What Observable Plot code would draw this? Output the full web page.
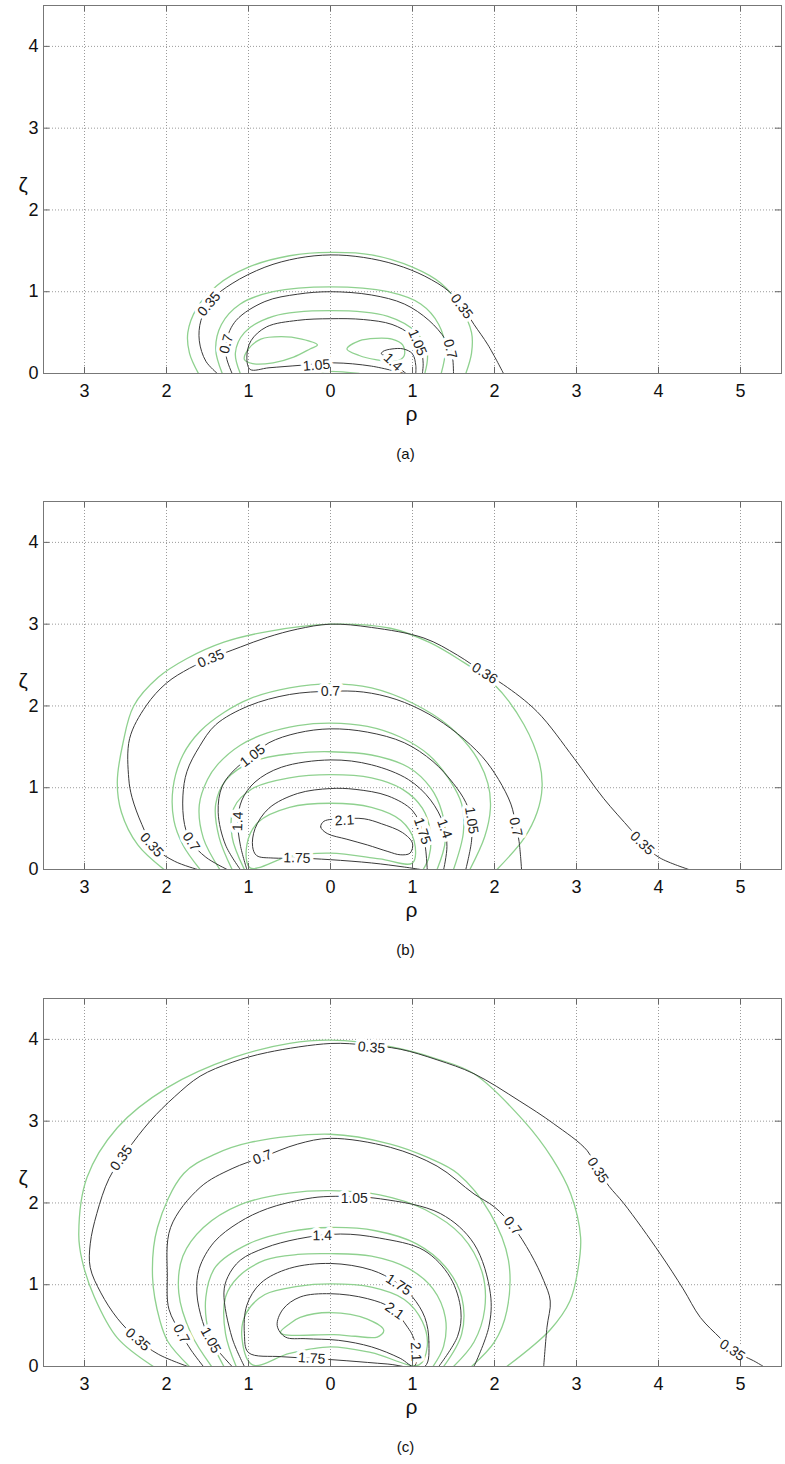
<!DOCTYPE html>
<html><head><meta charset="utf-8">
<script src="https://cdn.jsdelivr.net/npm/d3@7"></script>
<script src="https://cdn.jsdelivr.net/npm/@observablehq/plot@0.6"></script>
<style>body{margin:0;background:#fff} svg{display:block}</style>
</head><body><div id="chart"></div>
<script>
// axis ticks
const rhoTicks = [-3,-2,-1,0,1,2,3,4,5];
const zetaTicks = [0,1,2,3,4];
const panelNames = ["(a)","(b)","(c)"];

// ---------- panel (a) ----------
const greenA = [
 {closed:false, pts:[[-1.61,0],[-1.72,0.25],[-1.74,0.5],[-1.63,0.8],[-1.38,1.08],[-1.0,1.3],[-0.5,1.44],[0,1.48],[0.5,1.45],[1.0,1.3],[1.35,1.1],[1.58,0.82],[1.72,0.5],[1.72,0.25],[1.65,0]]},
 {closed:false, pts:[[-1.32,0],[-1.4,0.3],[-1.33,0.6],[-1.1,0.85],[-0.7,1.0],[0,1.06],[0.7,1.0],[1.1,0.85],[1.32,0.6],[1.4,0.3],[1.35,0]]},
 {closed:false, pts:[[-1.1,0],[-1.16,0.25],[-1.05,0.5],[-0.7,0.7],[0,0.77],[0.7,0.7],[1.05,0.5],[1.18,0.25],[1.15,0]]},
 {closed:true, pts:[[-0.16,0.35],[-0.35,0.42],[-0.6,0.45],[-0.85,0.42],[-1.0,0.3],[-1.05,0.17],[-0.95,0.12],[-0.7,0.13],[-0.45,0.2],[-0.25,0.3]]},
 {closed:true, pts:[[0.2,0.3],[0.35,0.4],[0.55,0.43],[0.75,0.42],[0.88,0.35],[0.9,0.22],[0.8,0.15],[0.55,0.17],[0.35,0.22]]},
 {closed:false, pts:[[-0.35,0],[0,0.025],[0.35,0]]}
];
const blackA = [
 {level:"0.35", closed:false, pts:[[-1.38,0],[-1.52,0.15],[-1.6,0.4],[-1.58,0.65],[-1.45,0.9],[-1.2,1.1],[-0.8,1.3],[-0.4,1.41],[0,1.45],[0.4,1.42],[0.8,1.33],[1.15,1.19],[1.45,1.0],[1.62,0.8],[1.75,0.6],[1.92,0.35],[2.11,0]]},
 {level:"0.7", closed:false, pts:[[-1.2,0],[-1.27,0.2],[-1.27,0.4],[-1.15,0.65],[-0.8,0.88],[-0.4,0.97],[0,1.0],[0.5,0.96],[0.9,0.85],[1.2,0.65],[1.4,0.42],[1.48,0.25],[1.5,0]]},
 {level:"1.05", closed:false, pts:[[0.9,0.0],[0.5,0.09],[0.04,0.13],[-0.37,0.1],[-0.75,0.07],[-0.98,0.05],[-1.02,0.2],[-0.97,0.4],[-0.78,0.57],[-0.4,0.65],[0,0.67],[0.4,0.66],[0.75,0.6],[0.98,0.47],[1.1,0.3],[1.13,0.12],[1.12,0]]},
 {level:"1.4", closed:false, pts:[[1.04,0],[1.04,0.1],[1.0,0.24],[0.89,0.3],[0.75,0.3],[0.64,0.27],[0.62,0.24],[0.7,0.2],[0.78,0.12],[0.86,0.05],[0.92,0]]}
];
const labelsA = [
 {t:"0.35", lvl:"0.35", at:[-1.48,0.85]}, {t:"0.35", lvl:"0.35", at:[1.6,0.82]},
 {t:"0.7", lvl:"0.7", at:[-1.27,0.36]}, {t:"0.7", lvl:"0.7", at:[1.46,0.3]},
 {t:"1.05", lvl:"1.05", at:[-0.17,0.1]}, {t:"1.05", lvl:"1.05", at:[1.06,0.38]},
 {t:"1.4", lvl:"1.4", at:[0.76,0.14]}
];

// ---------- panel (b) ----------
const greenB = [
 {closed:false, pts:[[-2.03,0],[-2.35,0.3],[-2.55,0.7],[-2.6,1.07],[-2.53,1.55],[-2.4,2.0],[-2.1,2.35],[-1.75,2.58],[-1.3,2.78],[-0.77,2.91],[0,3.0],[0.73,2.95],[1.2,2.78],[1.55,2.58],[2.0,2.26],[2.36,1.77],[2.55,1.3],[2.58,1.0],[2.52,0.7],[2.36,0.38],[2.03,0]]},
 {closed:false, pts:[[-1.59,0],[-1.8,0.3],[-1.91,0.6],[-1.92,1.0],[-1.8,1.4],[-1.59,1.69],[-1.3,1.92],[-0.98,2.09],[-0.5,2.22],[0,2.27],[0.5,2.22],[1.01,2.03],[1.45,1.75],[1.75,1.42],[1.92,1.05],[1.95,0.75],[1.88,0.4],[1.7,0]]},
 {closed:false, pts:[[-1.35,0],[-1.55,0.38],[-1.6,0.79],[-1.5,1.1],[-1.38,1.28],[-1.1,1.52],[-0.77,1.67],[-0.4,1.76],[0,1.79],[0.45,1.75],[0.85,1.62],[1.2,1.4],[1.45,1.1],[1.6,0.8],[1.62,0.45],[1.5,0]]},
 {closed:false, pts:[[-1.2,0],[-1.36,0.4],[-1.4,0.8],[-1.27,1.1],[-0.95,1.32],[-0.45,1.42],[0,1.44],[0.5,1.4],[0.95,1.25],[1.22,1.0],[1.36,0.7],[1.4,0.35],[1.3,0]]},
 {closed:false, pts:[[-1.05,0],[-1.2,0.4],[-1.18,0.75],[-0.95,0.99],[-0.5,1.12],[0,1.16],[0.5,1.12],[0.88,0.98],[1.12,0.75],[1.22,0.45],[1.2,0.15],[1.13,0]]},
 {closed:true, pts:[[-0.98,0.02],[-1.02,0.3],[-0.88,0.58],[-0.5,0.76],[0,0.81],[0.5,0.76],[0.86,0.6],[1.02,0.35],[1.0,0.08],[0.6,0.13],[0,0.2],[-0.5,0.16]]}
];
const blackB = [
 {level:"0.35", closed:false, pts:[[-1.62,0],[-1.9,0.1],[-2.16,0.28],[-2.3,0.55],[-2.42,0.88],[-2.46,1.11],[-2.45,1.6],[-2.25,2.0],[-2.0,2.28],[-1.72,2.46],[-1.46,2.58],[-1.1,2.72],[-0.77,2.84],[-0.4,2.94],[0,3.0],[0.5,2.96],[1.14,2.83],[1.55,2.62],[1.88,2.4],[2.11,2.26],[2.52,1.93],[2.97,1.36],[3.33,0.87],[3.66,0.49],[3.82,0.3],[4.02,0.14],[4.37,0]]},
 {level:"0.7", closed:false, pts:[[-1.26,0],[-1.52,0.15],[-1.7,0.34],[-1.78,0.55],[-1.8,0.9],[-1.75,1.2],[-1.6,1.5],[-1.4,1.77],[-1.0,2.0],[-0.5,2.14],[0,2.18],[0.4,2.17],[0.8,2.08],[1.2,1.9],[1.55,1.66],[1.85,1.38],[2.05,1.1],[2.2,0.8],[2.26,0.55],[2.3,0.34],[2.33,0]]},
 {level:"1.05", closed:false, pts:[[-1.1,0],[-1.28,0.3],[-1.37,0.7],[-1.32,1.02],[-1.15,1.24],[-0.95,1.39],[-0.75,1.55],[-0.4,1.67],[0,1.72],[0.45,1.68],[0.9,1.55],[1.25,1.32],[1.5,1.05],[1.65,0.82],[1.72,0.6],[1.72,0.35],[1.65,0]]},
 {level:"1.4", closed:false, pts:[[-1.02,0],[-1.1,0.3],[-1.13,0.59],[-1.08,0.85],[-0.92,1.07],[-0.6,1.25],[0,1.34],[0.5,1.28],[0.95,1.1],[1.22,0.85],[1.38,0.55],[1.42,0.28],[1.38,0]]},
 {level:"1.75", closed:false, pts:[[1.18,0],[1.16,0.25],[1.12,0.47],[1.0,0.72],[0.7,0.9],[0.3,0.98],[0,0.99],[-0.4,0.93],[-0.75,0.75],[-0.92,0.5],[-0.95,0.28],[-0.9,0.17],[-0.7,0.14],[-0.41,0.14],[0,0.12],[0.5,0.08],[0.9,0.03],[1.1,0]]},
 {level:"2.1", closed:true, pts:[[-0.08,0.59],[-0.12,0.52],[-0.04,0.44],[0.2,0.37],[0.45,0.3],[0.7,0.22],[0.85,0.18],[0.97,0.2],[1.0,0.32],[0.88,0.45],[0.62,0.56],[0.41,0.62],[0.15,0.62]]}
];
const labelsB = [
 {t:"0.35", lvl:"0.35", at:[-1.46,2.58]}, {t:"0.35", lvl:"0.35", at:[-2.18,0.3]},
 {t:"0.36", lvl:"0.35", at:[1.88,2.4]}, {t:"0.35", lvl:"0.35", at:[3.8,0.32]},
 {t:"0.7", lvl:"0.7", at:[0.0,2.18]}, {t:"0.7", lvl:"0.7", at:[-1.7,0.34]}, {t:"0.7", lvl:"0.7", at:[2.26,0.52]},
 {t:"1.05", lvl:"1.05", at:[-0.95,1.39]}, {t:"1.05", lvl:"1.05", at:[1.72,0.6]},
 {t:"1.4", lvl:"1.4", at:[-1.13,0.59]}, {t:"1.4", lvl:"1.4", at:[1.39,0.5]},
 {t:"1.75", lvl:"1.75", at:[-0.41,0.14]}, {t:"1.75", lvl:"1.75", at:[1.12,0.47]},
 {t:"2.1", lvl:"2.1", at:[0.17,0.6]}
];

// ---------- panel (c) ----------
const greenC = [
 {closed:false, pts:[[-2.16,0],[-2.6,0.35],[-2.88,0.85],[-3.03,1.3],[-3.07,1.62],[-2.97,2.31],[-2.6,2.92],[-1.99,3.41],[-1.18,3.78],[-0.5,3.95],[0,3.99],[0.73,3.91],[1.3,3.76],[1.75,3.58],[2.36,3.0],[2.7,2.55],[2.93,2.11],[3.05,1.58],[3.02,1.2],[2.92,0.8],[2.68,0.45],[2.15,0]]},
 {closed:false, pts:[[-1.72,0],[-1.98,0.3],[-2.08,0.56],[-2.17,1.09],[-2.11,1.7],[-1.79,2.36],[-1.4,2.6],[-0.98,2.74],[0,2.84],[0.73,2.72],[1.2,2.55],[1.55,2.36],[1.95,1.87],[2.17,1.3],[2.15,0.68],[2.0,0.3],[1.72,0]]},
 {closed:false, pts:[[-1.45,0],[-1.7,0.4],[-1.85,0.9],[-1.8,1.35],[-1.55,1.7],[-1.1,1.98],[-0.5,2.12],[0,2.15],[0.6,2.1],[1.15,1.92],[1.6,1.6],[1.85,1.15],[1.88,0.7],[1.75,0.3],[1.5,0]]},
 {closed:false, pts:[[-1.3,0],[-1.48,0.4],[-1.52,0.85],[-1.4,1.22],[-1.0,1.5],[-0.5,1.65],[0,1.7],[0.55,1.66],[1.05,1.5],[1.4,1.22],[1.6,0.85],[1.6,0.4],[1.38,0]]},
 {closed:false, pts:[[-1.15,0],[-1.28,0.4],[-1.28,0.85],[-1.12,1.1],[-0.8,1.3],[-0.4,1.37],[0,1.38],[0.5,1.35],[0.95,1.2],[1.25,0.95],[1.4,0.6],[1.38,0.25],[1.25,0]]},
 {closed:true, pts:[[-0.95,0.02],[-1.08,0.35],[-1.03,0.65],[-0.8,0.88],[-0.4,0.98],[0,1.01],[0.5,0.97],[0.9,0.82],[1.12,0.55],[1.18,0.25],[1.08,0.02],[0.5,0.17],[0,0.24],[-0.5,0.16]]},
 {closed:true, pts:[[-0.61,0.42],[-0.5,0.52],[-0.37,0.6],[0,0.66],[0.45,0.58],[0.65,0.44],[0.57,0.36],[0.3,0.37],[0.04,0.39],[-0.57,0.39]]}
];
const blackC = [
 {level:"0.35", closed:false, pts:[[-1.74,0],[-2.1,0.15],[-2.35,0.33],[-2.6,0.59],[-2.8,0.9],[-2.93,1.21],[-2.93,1.5],[-2.85,1.87],[-2.7,2.3],[-2.48,2.64],[-2.2,3.0],[-1.9,3.3],[-1.59,3.55],[-1.2,3.72],[-0.77,3.84],[0,3.95],[0.44,3.93],[0.85,3.88],[1.3,3.75],[1.75,3.58],[2.3,3.25],[2.72,2.97],[3.13,2.64],[3.26,2.4],[3.4,2.2],[3.58,1.99],[4.02,1.38],[4.3,0.95],[4.51,0.6],[4.75,0.35],[4.9,0.2],[5.16,0.07],[5.28,0]]},
 {level:"0.7", closed:false, pts:[[-1.55,0],[-1.7,0.2],[-1.82,0.4],[-1.97,0.7],[-1.99,1.09],[-1.95,1.7],[-1.59,2.19],[-1.2,2.42],[-0.83,2.56],[-0.4,2.72],[0,2.79],[0.73,2.68],[1.3,2.45],[1.75,2.11],[2.0,1.95],[2.22,1.72],[2.44,1.38],[2.6,1.05],[2.68,0.8],[2.64,0.48],[2.6,0]]},
 {level:"1.05", closed:false, pts:[[-1.2,0],[-1.36,0.18],[-1.46,0.32],[-1.56,0.55],[-1.63,0.9],[-1.6,1.2],[-1.42,1.52],[-1.12,1.76],[-0.77,1.93],[-0.3,2.05],[0,2.08],[0.61,2.05],[1.34,1.87],[1.75,1.5],[1.95,0.89],[1.93,0.48],[1.75,0]]},
 {level:"1.4", closed:false, pts:[[-1.05,0],[-1.2,0.35],[-1.3,0.9],[-1.25,1.1],[-1.1,1.3],[-0.8,1.45],[-0.4,1.56],[0.12,1.62],[0.6,1.57],[1.14,1.42],[1.46,1.09],[1.59,0.68],[1.55,0.37],[1.32,0]]},
 {level:"1.75", closed:true, pts:[[1.15,0],[1.2,0.3],[1.15,0.6],[1.0,0.85],[0.8,1.03],[0.5,1.18],[0,1.26],[-0.5,1.2],[-0.85,1.02],[-1.02,0.75],[-1.05,0.4],[-1.0,0.17],[-0.6,0.12],[-0.23,0.1],[0.2,0.07],[0.7,0.03]]},
 {level:"2.1", closed:true, pts:[[1.02,0.0],[1.05,0.2],[1.0,0.38],[0.94,0.48],[0.75,0.71],[0.45,0.83],[0,0.89],[-0.37,0.85],[-0.58,0.7],[-0.65,0.5],[-0.55,0.36],[-0.3,0.34],[0.1,0.32],[0.5,0.24],[0.85,0.1]]}
];
const labelsC = [
 {t:"0.35", lvl:"0.35", at:[-2.35,0.33]}, {t:"0.35", lvl:"0.35", at:[-2.55,2.55]},
 {t:"0.35", lvl:"0.35", at:[0.5,3.9]}, {t:"0.35", lvl:"0.35", at:[3.26,2.4]}, {t:"0.35", lvl:"0.35", at:[4.9,0.2]},
 {t:"0.7", lvl:"0.7", at:[-0.83,2.56]}, {t:"0.7", lvl:"0.7", at:[-1.82,0.4]}, {t:"0.7", lvl:"0.7", at:[2.22,1.72]},
 {t:"1.05", lvl:"1.05", at:[0.29,2.06]}, {t:"1.05", lvl:"1.05", at:[-1.46,0.32]},
 {t:"1.4", lvl:"1.4", at:[-0.1,1.6]},
 {t:"1.75", lvl:"1.75", at:[0.83,1.0]}, {t:"1.75", lvl:"1.75", at:[-0.23,0.1]},
 {t:"2.1", lvl:"2.1", at:[0.78,0.68]}, {t:"2.1", lvl:"2.1", at:[1.04,0.18]}
];

// label angle derived from the direction of its own contour near the label
function withAngles(labels, curves) {
  return labels.map(l => {
    let best = null, bd = Infinity;
    for (const c of curves.filter(c => c.level === l.lvl)) {
      const n = c.pts.length;
      c.pts.forEach((p, i) => {
        const d = (p[0]-l.at[0])**2 + (p[1]-l.at[1])**2;
        if (d < bd) {
          bd = d;
          const a = c.closed ? c.pts[(i-1+n)%n] : c.pts[Math.max(0,i-1)];
          const b = c.closed ? c.pts[(i+1)%n] : c.pts[Math.min(n-1,i+1)];
          best = [a, b];
        }
      });
    }
    let ang = 0;
    if (best) {
      const dx = (best[1][0]-best[0][0]) * 82, dy = (best[1][1]-best[0][1]) * 81.8;
      ang = Math.atan2(-dy, dx) * 180 / Math.PI;
      if (ang > 90) ang -= 180;
      if (ang < -90) ang += 180;
    }
    return {...l, angle: ang};
  });
}

function panel(green, black, labels, name, height) {
  const lineMarks = [];
  for (const c of green) lineMarks.push(Plot.line(c.pts, {x: d=>d[0], y: d=>d[1], stroke: "#8fd18f", strokeWidth: 1.3, curve: c.closed ? "catmull-rom-closed" : "catmull-rom", clip: true}));
  for (const c of black) lineMarks.push(Plot.line(c.pts, {x: d=>d[0], y: d=>d[1], stroke: "#3a3a3a", strokeWidth: 1, curve: c.closed ? "catmull-rom-closed" : "catmull-rom", clip: true}));
  const labs = withAngles(labels, black);
  return Plot.plot({
    width: 785, height,
    marginLeft: 43, marginRight: 4, marginTop: 5, marginBottom: height - 373,
    x: {domain: [-3.5, 5.5]},
    y: {domain: [0, 4.5]},
    style: {fontFamily: "'Liberation Sans', Arial, sans-serif", fontSize: "18px", background: "white", color: "#111"},
    marks: [
      Plot.gridX(rhoTicks, {stroke: "#9a9a9a", strokeOpacity: 1, strokeDasharray: "1,2"}),
      Plot.gridY(zetaTicks, {stroke: "#9a9a9a", strokeOpacity: 1, strokeDasharray: "1,2"}),
      ...lineMarks,
      Plot.text(labs, {x: d=>d.at[0], y: d=>d.at[1], text: d=>d.t, rotate: d=>d.angle, fontSize: 14, fill: "#222", stroke: "white", strokeWidth: 7, strokeLinejoin: "round", paintOrder: "stroke"}),
      Plot.ruleX(rhoTicks, {x: d=>d, y1: 0, y2: 0.075, stroke: "#666"}),
      Plot.ruleX(rhoTicks, {x: d=>d, y1: 4.425, y2: 4.5, stroke: "#666"}),
      Plot.ruleY(zetaTicks, {y: d=>d, x1: -3.5, x2: -3.425, stroke: "#666"}),
      Plot.ruleY(zetaTicks, {y: d=>d, x1: 5.425, x2: 5.5, stroke: "#666"}),
      Plot.frame({stroke: "#777"}),
      Plot.axisX(rhoTicks, {tickSize: 0, tickPadding: 11, tickFormat: d => String(Math.abs(d)), fontSize: 18, label: null}),
      Plot.axisY(zetaTicks, {tickSize: 0, tickPadding: 5, tickFormat: d => String(d), fontSize: 18, label: null}),
      Plot.text(["ρ"], {frameAnchor: "bottom", dy: 47, dx: -1, fontSize: 21, fill: "#111"}),
      Plot.text(["ζ"], {frameAnchor: "left", dx: -25, dy: -4, fontSize: 21, fill: "#111"}),
      Plot.text([name], {frameAnchor: "bottom", dx: -7, dy: 85, fontSize: 15, fill: "#111"})
    ]
  });
}

const root = document.getElementById("chart");
root.append(panel(greenA, blackA, labelsA, panelNames[0], 496));
root.append(panel(greenB, blackB, labelsB, panelNames[1], 497));
root.append(panel(greenC, blackC, labelsC, panelNames[2], 471));
</script>
</body></html>
